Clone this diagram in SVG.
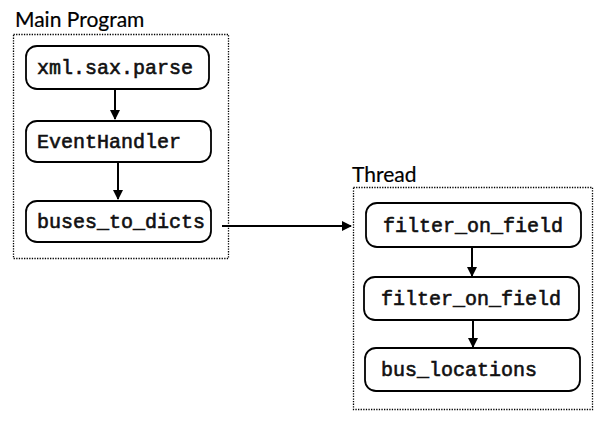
<svg xmlns="http://www.w3.org/2000/svg" width="604" height="421" viewBox="0 0 604 421">
<defs>
<style>
.frame{fill:none;stroke:#000;stroke-width:1.3;stroke-dasharray:1.3 1.3}
.title{font-family:Lato,"Open Sans",sans-serif;font-size:21px;fill:#000;stroke:#000;stroke-width:0.2}
.node rect{fill:#fff;stroke:#000;stroke-width:1.8}
.node text{font-family:"Liberation Mono","Courier New",monospace;font-size:20px;fill:#111;stroke:#111;stroke-width:0.6}
.conn line{stroke:#000;stroke-width:2}
</style>
<marker id="ah" viewBox="0 0 10 10" refX="9" refY="5" markerWidth="6" markerHeight="5" orient="auto" markerUnits="strokeWidth">
<path d="M0,0 L10,5 L0,10 Z" fill="#000"/>
</marker>
</defs>
<rect x="0" y="0" width="604" height="421" fill="#fff"/>
<g id="main-program">
<rect class="frame" x="13.5" y="34.5" width="215" height="224"/>
<text class="title" x="15" y="27">Main Program</text>
</g>
<g id="thread">
<rect class="frame" x="353.5" y="187.5" width="239" height="222"/>
<text class="title" x="352" y="182">Thread</text>
</g>
<g id="n-xml" class="node">
<rect x="26" y="46" width="183" height="43" rx="11"/>
<text x="37" y="74">xml.sax.parse</text>
</g>
<g id="n-event" class="node">
<rect x="26" y="121" width="185" height="41" rx="11"/>
<text x="37" y="148">EventHandler</text>
</g>
<g id="n-buses" class="node">
<rect x="26" y="201" width="185" height="41" rx="11"/>
<text x="37" y="228">buses_to_dicts</text>
</g>
<g id="n-filter1" class="node">
<rect x="366" y="203" width="215" height="44" rx="11"/>
<text x="383" y="232">filter_on_field</text>
</g>
<g id="n-filter2" class="node">
<rect x="364" y="277" width="215" height="43" rx="11"/>
<text x="381" y="305">filter_on_field</text>
</g>
<g id="n-busloc" class="node">
<rect x="365" y="348" width="215" height="43" rx="11"/>
<text x="381" y="376">bus_locations</text>
</g>
<g id="connectors" class="conn">
<line x1="115" y1="89" x2="115" y2="119" marker-end="url(#ah)"/>
<line x1="118" y1="162" x2="118" y2="199" marker-end="url(#ah)"/>
<line x1="222" y1="226" x2="351" y2="226" marker-end="url(#ah)"/>
<line x1="472" y1="247" x2="472" y2="276" marker-end="url(#ah)"/>
<line x1="473" y1="320" x2="473" y2="347" marker-end="url(#ah)"/>
</g>
</svg>
